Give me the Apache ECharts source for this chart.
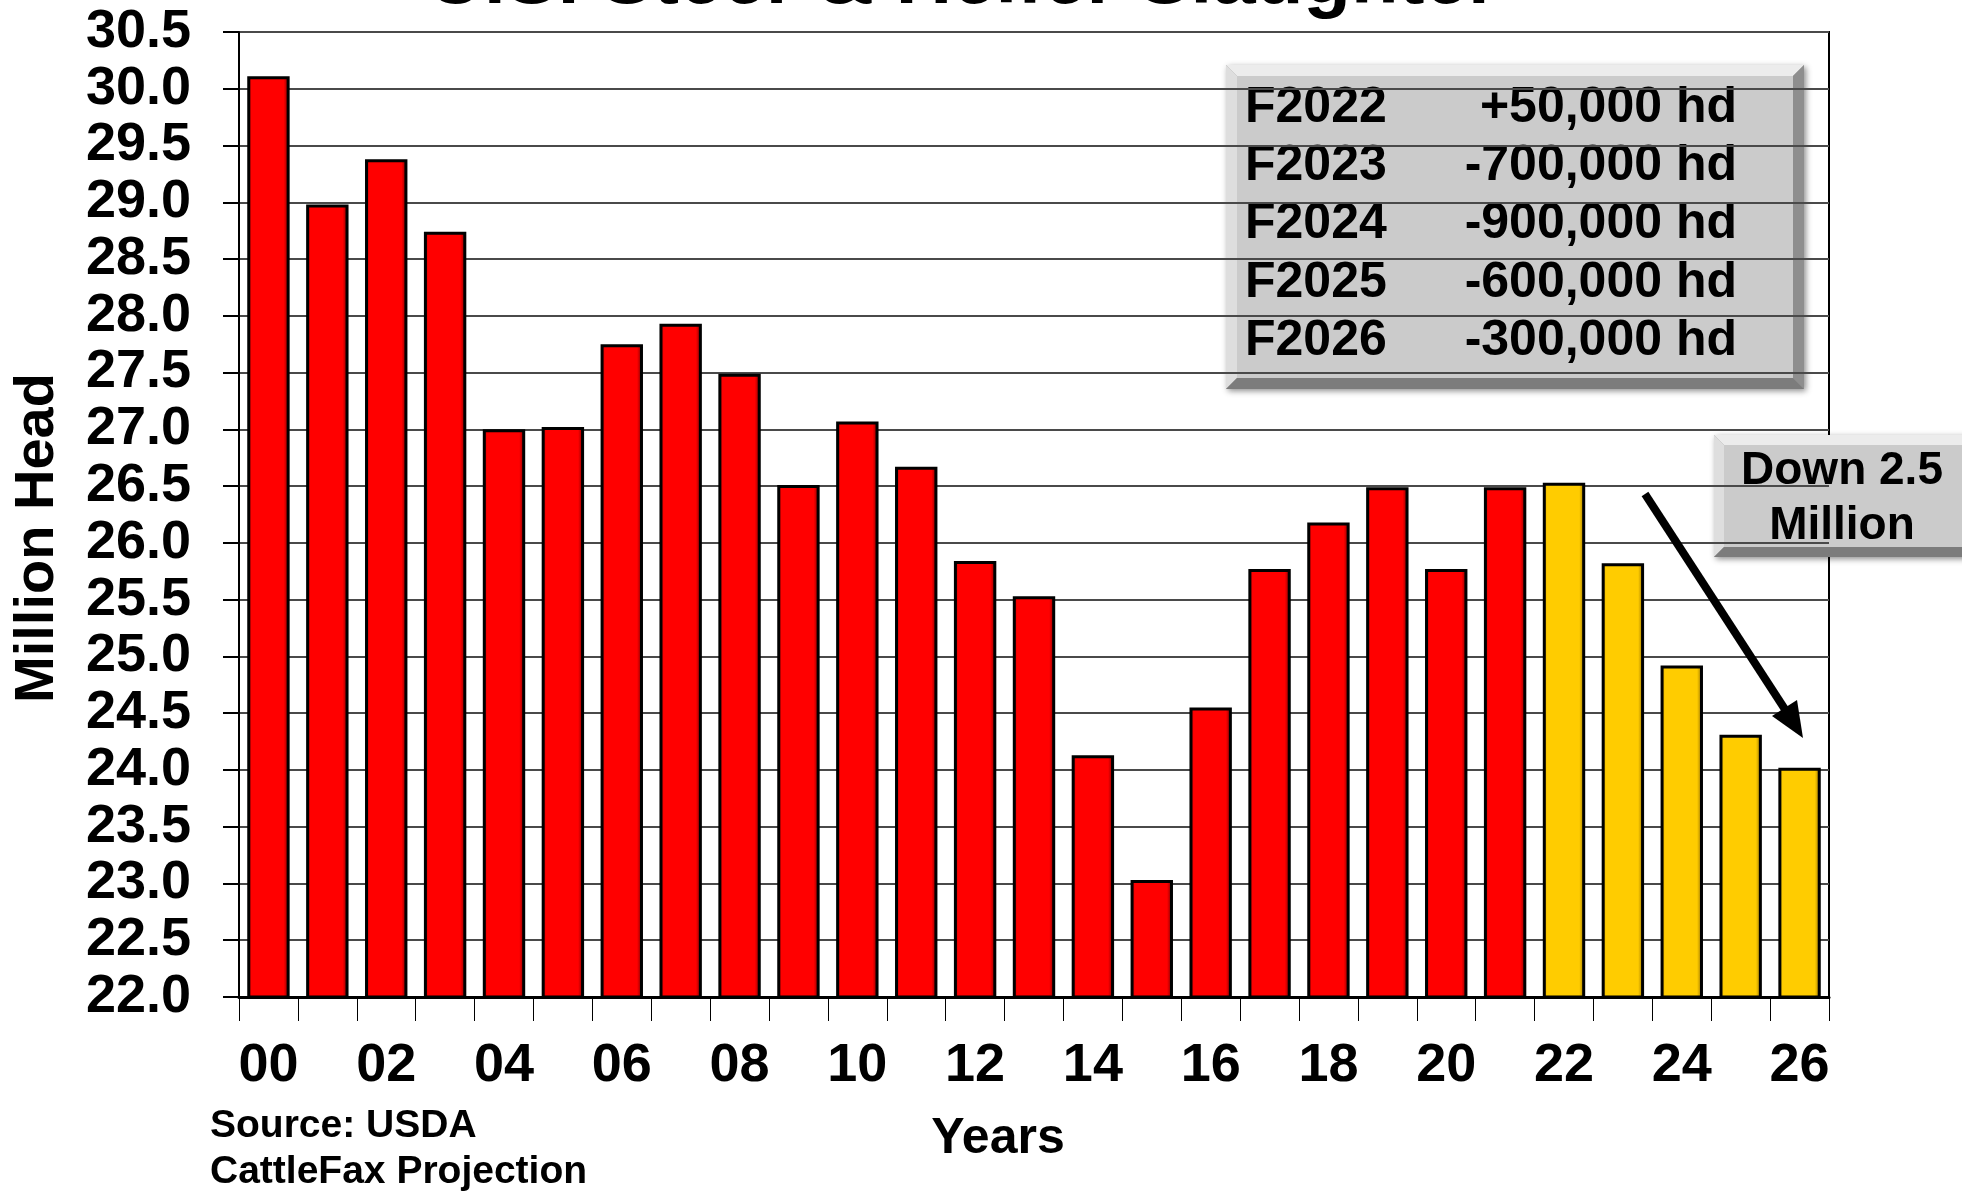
<!DOCTYPE html>
<html lang="en">
<head>
    <meta charset="UTF-8">
    <title>U.S. Steer & Heifer Slaughter</title>
    <script src="https://cdn.jsdelivr.net/npm/echarts@6/dist/echarts.min.js"></script>
    <style>
        html, body { margin: 0; padding: 0; background: #fff; }
        #main { width: 1962px; height: 1193px; }
    </style>
</head>
<body>
<div id="main"></div>
<script type="text/javascript">
    // data (million head)
    var years = ['00', '01', '02', '03', '04', '05', '06', '07', '08', '09', '10', '11', '12', '13',
        '14', '15', '16', '17', '18', '19', '20', '21', '22', '23', '24', '25', '26'];
    var reported = [30.11, 28.98, 29.38, 28.74, 27.0, 27.02, 27.75, 27.93, 27.49, 26.51, 27.07, 26.67,
        25.84, 25.53, 24.13, 23.03, 24.55, 25.77, 26.18, 26.49, 25.77, 26.49];
    var projected = [26.53, 25.82, 24.92, 24.31, 24.02];
    var yTicks = { min: 22.0, max: 30.5, step: 0.5 };
    var forecastYears = ['F2022', 'F2023', 'F2024', 'F2025', 'F2026'];
    var forecastChange = ['+50,000 hd', '-700,000 hd', '-900,000 hd', '-600,000 hd', '-300,000 hd'];

    // red bars for the reported years, yellow for the projection
    var redData = years.map(function (y, i) { return i < reported.length ? reported[i] : '-'; });
    var yellowData = years.map(function (y, i) {
        var j = i - reported.length;
        return j >= 0 ? projected[j] : '-';
    });

    var FONT = '"Liberation Sans", Arial, sans-serif';

    function barFill(dark, face, dark2) {
        return new echarts.graphic.LinearGradient(0, 0, 1, 0, [
            {offset: 0, color: dark},
            {offset: 0.1, color: face},
            {offset: 0.86, color: face},
            {offset: 1, color: dark2}
        ]);
    }

    // grey bevelled box like the powerpoint callouts
    function bevelBox(x, y, w, h, b) {
        return [
            {type: 'rect', shape: {x: x, y: y, width: w, height: h},
                style: {fill: '#9c9c9c', shadowBlur: 6, shadowColor: 'rgba(0,0,0,0.45)', shadowOffsetX: 2, shadowOffsetY: 2}},
            {type: 'polygon', shape: {points: [[x, y], [x + w, y], [x + w - b, y + b], [x + b, y + b]]},
                style: {fill: '#ececec'}},
            {type: 'polygon', shape: {points: [[x, y], [x + b, y + b], [x + b, y + h - b], [x, y + h]]},
                style: {fill: '#dedede'}},
            {type: 'polygon', shape: {points: [[x + w, y], [x + w, y + h], [x + w - b, y + h - b], [x + w - b, y + b]]},
                style: {fill: '#8e8e8e'}},
            {type: 'polygon', shape: {points: [[x, y + h], [x + b, y + h - b], [x + w - b, y + h - b], [x + w, y + h]]},
                style: {fill: '#7c7c7c'}},
            {type: 'rect', shape: {x: x + b, y: y + b, width: w - 2 * b, height: h - 2 * b},
                style: {fill: '#cbcbcb'}}
        ];
    }

    var legendBox = {x: 1226, y: 65, w: 578, h: 324};
    var legendChildren = bevelBox(legendBox.x, legendBox.y, legendBox.w, legendBox.h, 11);
    forecastYears.forEach(function (name, i) {
        var ty = 108 + i * 58.3;
        legendChildren.push({type: 'text', x: 1245, y: ty,
            style: {text: name, font: 'bold 50px ' + FONT, fill: '#000', align: 'left', verticalAlign: 'middle'}});
        legendChildren.push({type: 'text', x: 1737, y: ty,
            style: {text: forecastChange[i], font: 'bold 50px ' + FONT, fill: '#000', align: 'right', verticalAlign: 'middle'}});
    });

    var downChildren = bevelBox(1714, 435, 262, 122, 10);
    downChildren.push({type: 'text', x: 1842, y: 471,
        style: {text: 'Down 2.5', font: 'bold 46px ' + FONT, fill: '#000', align: 'center', verticalAlign: 'middle'}});
    downChildren.push({type: 'text', x: 1842, y: 526,
        style: {text: 'Million', font: 'bold 46px ' + FONT, fill: '#000', align: 'center', verticalAlign: 'middle'}});

    var chart = echarts.init(document.getElementById('main'));

    chart.setOption({
        backgroundColor: '#fff',
        animation: false,
        grid: {
            left: 239, right: 133, top: 32, bottom: 196,
            show: true, borderColor: '#000', borderWidth: 2, backgroundColor: 'transparent'
        },
        xAxis: {
            type: 'category',
            data: years,
            boundaryGap: true,
            axisLine: {show: true, lineStyle: {color: '#000', width: 3}},
            axisTick: {show: true, interval: 0, length: 24, lineStyle: {color: '#000', width: 1}},
            axisLabel: {
                interval: 1, margin: 42, color: '#000',
                fontFamily: FONT, fontWeight: 'bold', fontSize: 54
            },
            splitLine: {show: false}
        },
        yAxis: {
            type: 'value',
            min: yTicks.min, max: yTicks.max, interval: yTicks.step,
            axisLine: {show: true, lineStyle: {color: '#000', width: 2}},
            axisTick: {show: true, length: 16, lineStyle: {color: '#000', width: 2}},
            axisLabel: {
                margin: 48, color: '#000',
                fontFamily: FONT, fontWeight: 'bold', fontSize: 54,
                formatter: function (v) { return v.toFixed(1); }
            },
            splitLine: {show: true, lineStyle: {color: '#4a4a4a', width: 2}}
        },
        series: [
            {
                name: 'Reported',
                type: 'bar',
                data: redData,
                barCategoryGap: '28%',
                barGap: '-100%',
                itemStyle: {color: barFill('#a00000', '#ff0000', '#6a0000'), borderColor: '#000', borderWidth: 3}
            },
            {
                name: 'Projection',
                type: 'bar',
                data: yellowData,
                barCategoryGap: '28%',
                barGap: '-100%',
                itemStyle: {color: barFill('#c09000', '#ffcc00', '#8a6500'), borderColor: '#000', borderWidth: 3}
            }
        ],
        graphic: [
            {type: 'text', x: 963, y: -19, z: 10,
                style: {text: 'U.S. Steer & Heifer Slaughter', font: 'bold 78px ' + FONT, fill: '#000',
                    align: 'center', verticalAlign: 'middle'}},
            {type: 'text', x: 38, y: 538, rotation: Math.PI / 2, z: 10,
                style: {text: 'Million Head', font: 'bold 56px ' + FONT, fill: '#000',
                    align: 'center', verticalAlign: 'middle'}},
            {type: 'text', x: 998, y: 1139, z: 10,
                style: {text: 'Years', font: 'bold 50px ' + FONT, fill: '#000',
                    align: 'center', verticalAlign: 'middle'}},
            {type: 'text', x: 210, y: 1126, z: 10,
                style: {text: 'Source: USDA', font: 'bold 39px ' + FONT, fill: '#000',
                    align: 'left', verticalAlign: 'middle'}},
            {type: 'text', x: 210, y: 1172, z: 10,
                style: {text: 'CattleFax Projection', font: 'bold 39px ' + FONT, fill: '#000',
                    align: 'left', verticalAlign: 'middle'}},
            {type: 'group', z: 20, children: legendChildren},
            {type: 'group', z: 20, children: downChildren},
            // arrow from the callout down to the 2026 bar
            {type: 'line', z: 20, shape: {x1: 1645, y1: 494, x2: 1788, y2: 714},
                style: {stroke: '#000', lineWidth: 8}},
            {type: 'polygon', z: 20, shape: {points: [[1803, 738], [1772, 716], [1797, 700]]},
                style: {fill: '#000'}}
        ]
    });
</script>
</body>
</html>
